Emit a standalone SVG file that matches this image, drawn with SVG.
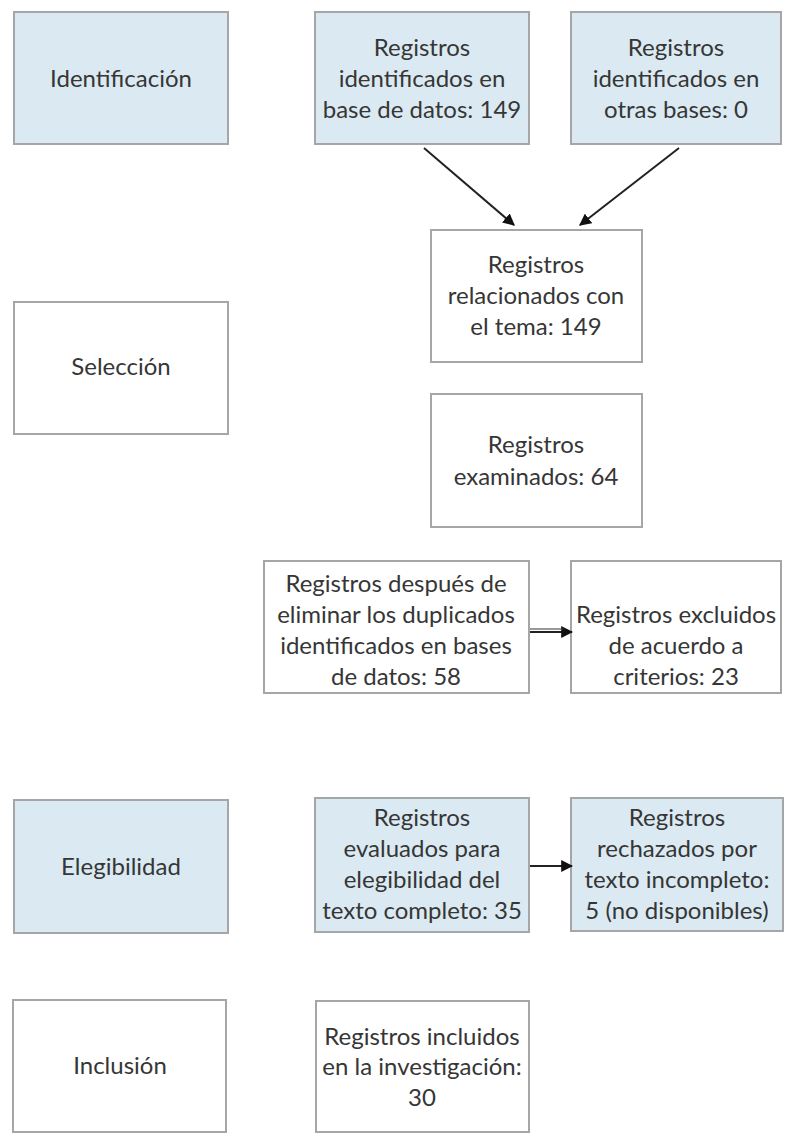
<svg xmlns="http://www.w3.org/2000/svg" width="788" height="1133" viewBox="0 0 788 1133">
<defs>
<style>
.box{stroke:#a6a6a6;stroke-width:2}
.blue{fill:#dbeaf2}
.white{fill:#ffffff}
text{font-family:Lato,"Open Sans","Liberation Sans",sans-serif;font-size:24px;fill:#363636;text-anchor:middle}
.conn{stroke:#222;stroke-width:2;fill:none}
</style>
<marker id="ah" viewBox="0 0 10 10" refX="9" refY="5" markerWidth="6" markerHeight="6" orient="auto" markerUnits="strokeWidth">
<path d="M0,0 L10,5 L0,10 z" fill="#111"/>
</marker>
</defs>
<rect width="788" height="1133" fill="#ffffff"/>

<g id="identificacion">
<rect class="box blue" x="14" y="12" width="214" height="132"/>
<text x="121" y="87">Identificación</text>
</g>
<g id="reg-bd">
<rect class="box blue" x="315" y="12" width="214" height="132"/>
<text x="422" y="56">Registros</text>
<text x="422" y="87">identificados en</text>
<text x="422" y="118">base de datos: 149</text>
</g>
<g id="reg-otras">
<rect class="box blue" x="571" y="12" width="210" height="132"/>
<text x="676" y="56">Registros</text>
<text x="676" y="87">identificados en</text>
<text x="676" y="118">otras bases: 0</text>
</g>

<g id="seleccion">
<rect class="box white" x="14" y="302" width="214" height="132"/>
<text x="121" y="375">Selección</text>
</g>
<g id="relacionados">
<rect class="box white" x="431" y="230" width="211" height="132"/>
<text x="536" y="273">Registros</text>
<text x="536" y="304">relacionados con</text>
<text x="536" y="335">el tema: 149</text>
</g>
<g id="examinados">
<rect class="box white" x="431" y="394" width="211" height="133"/>
<text x="536" y="453">Registros</text>
<text x="536" y="485">examinados: 64</text>
</g>
<g id="despues">
<rect class="box white" x="264" y="561" width="265" height="132"/>
<text x="396" y="592">Registros después de</text>
<text x="396" y="623">eliminar los duplicados</text>
<text x="396" y="654">identificados en bases</text>
<text x="396" y="685">de datos: 58</text>
</g>
<g id="excluidos">
<rect class="box white" x="571" y="561" width="210" height="132"/>
<text x="676" y="623">Registros excluidos</text>
<text x="676" y="654">de acuerdo a</text>
<text x="676" y="685">criterios: 23</text>
</g>

<g id="elegibilidad">
<rect class="box blue" x="14" y="800" width="214" height="133"/>
<text x="121" y="875">Elegibilidad</text>
</g>
<g id="evaluados">
<rect class="box blue" x="315" y="798" width="214" height="134"/>
<text x="422" y="826">Registros</text>
<text x="422" y="857">evaluados para</text>
<text x="422" y="888">elegibilidad del</text>
<text x="422" y="919">texto completo: 35</text>
</g>
<g id="rechazados">
<rect class="box blue" x="571" y="798" width="212" height="133"/>
<text x="677" y="826">Registros</text>
<text x="677" y="857">rechazados por</text>
<text x="677" y="888">texto incompleto:</text>
<text x="677" y="919">5 (no disponibles)</text>
</g>

<g id="inclusion">
<rect class="box white" x="13" y="1000" width="213" height="132"/>
<text x="120" y="1074">Inclusión</text>
</g>
<g id="incluidos">
<rect class="box white" x="316" y="1001" width="213" height="131"/>
<text x="422" y="1045">Registros incluidos</text>
<text x="422" y="1075">en la investigación:</text>
<text x="422" y="1106">30</text>
</g>

<g id="connectors">
<line class="conn" x1="424" y1="148" x2="514" y2="225" marker-end="url(#ah)"/>
<line class="conn" x1="679" y1="148" x2="580" y2="225" marker-end="url(#ah)"/>
<line class="conn" x1="530" y1="632" x2="572" y2="632" marker-end="url(#ah)"/>
<line x1="530" y1="629" x2="564" y2="629" stroke="#333" stroke-width="1"/>
<line class="conn" x1="530" y1="866" x2="572" y2="866" marker-end="url(#ah)"/>
</g>
</svg>
